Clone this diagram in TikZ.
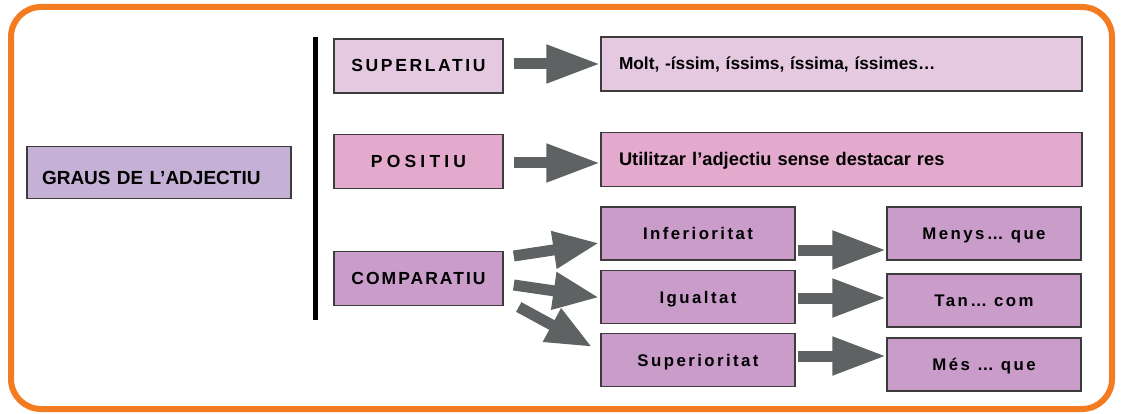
\documentclass[tikz,border=0pt]{standalone}
\usepackage{fontspec}
\setmainfont{Liberation Sans}
\usetikzlibrary{arrows.meta,calc}
\definecolor{frameorange}{HTML}{F47C20}
\definecolor{boxline}{HTML}{3C3C3C}
\definecolor{arrowgray}{HTML}{5E6262}
\definecolor{grausfill}{HTML}{C5B1D6}
\definecolor{superfill}{HTML}{E5C9E1}
\definecolor{posfill}{HTML}{E3AACD}
\definecolor{compfill}{HTML}{C99CC9}
\begin{document}
\begin{tikzpicture}[x=1pt,y=-1pt,
    box/.style={draw=boxline,line width=1.5pt,inner sep=0pt,text height=12pt,text depth=0pt},
    gradebox/.style={box,minimum width=169pt,minimum height=54pt},
    subbox/.style={box,fill=compfill,minimum width=194pt,minimum height=53pt,
      font=\fontsize{16.8}{20}\selectfont\bfseries\addfontfeatures{LetterSpace=14.5}},
    widebox/.style={box,minimum width=481pt,minimum height=54pt,text width=445pt,inner xsep=18pt,
      align=left,font=\fontsize{#1}{21}\selectfont\bfseries},
    spaced/.style={font=\fontsize{17.5}{20}\selectfont\bfseries\addfontfeatures{LetterSpace=#1}},
    blockarrow/.style={draw=arrowgray,line width=11pt,-{Triangle[length=54pt,width=36pt]}},
    forkarrow/.style={draw=arrowgray,line width=11pt,-{Triangle[length=46pt,width=35pt]}}]
  \useasboundingbox[fill=white] (0,0) rectangle (1121,414);
  \draw[frameorange,line width=6pt,rounded corners=30pt,fill=white] (11,7) rectangle (1112,409);
  \node[box,fill=grausfill,minimum width=264pt,minimum height=52pt,text width=234pt,inner xsep=15pt,
    text height=25pt,align=left,font=\fontsize{19}{22}\selectfont\bfseries] (graus) at (159,172.5) {GRAUS DE L’ADJECTIU};
  \draw[line width=5pt] (315,37) -- (315,320);
  \node[gradebox,fill=superfill,spaced=15] (sup) at (418.5,66) {SUPERLATIU};
  \node[gradebox,fill=posfill,spaced=24] (pos) at (418.5,161.5) {POSITIU};
  \node[gradebox,fill=compfill,spaced=11.5] (comp) at (418.5,278.5) {COMPARATIU};
  \node[widebox=17.3,fill=superfill] (molt) at (841.5,64) {Molt, -íssim, íssims, íssima, íssimes…};
  \node[widebox=18.3,fill=posfill] (uti) at (841.5,159.5) {Utilitzar l’adjectiu sense destacar res};
  \node[subbox] (inf) at (698,233.5) {Inferioritat};
  \node[subbox] (igu) at (698,297) {Igualtat};
  \node[subbox] (supe) at (698,360) {Superioritat};
  \node[subbox] (menys) at (984,233.5) {Menys… que};
  \node[subbox] (tan) at (984,300.5) {Tan… com};
  \node[subbox] (mes) at (984,364.5) {Més … que};
  \draw[blockarrow] ($(sup.east)+(10,-2)$) -- (molt.west);
  \draw[blockarrow] ($(pos.east)+(10,1.5)$) -- ($(uti.west)+(0,3.5)$);
  \draw[forkarrow] ($(comp.east)+(10,-22.5)$) -- ($(inf.west)+(-1,9.5)$);
  \draw[forkarrow] ($(comp.east)+(10,6.5)$) -- ($(igu.west)+(-1,0.5)$);
  \draw[forkarrow] ($(comp.east)+(15,28.5)$) -- ($(supe.west)+(-8,-13)$);
  \draw[blockarrow] ($(inf.east)+(2,16.5)$) -- ($(menys.west)+(0,16.5)$);
  \draw[blockarrow] ($(igu.east)+(2,1)$) -- ($(tan.west)+(0,-2.5)$);
  \draw[blockarrow] ($(supe.east)+(2,-4)$) -- ($(mes.west)+(0,-8.5)$);
\end{tikzpicture}
\end{document}
